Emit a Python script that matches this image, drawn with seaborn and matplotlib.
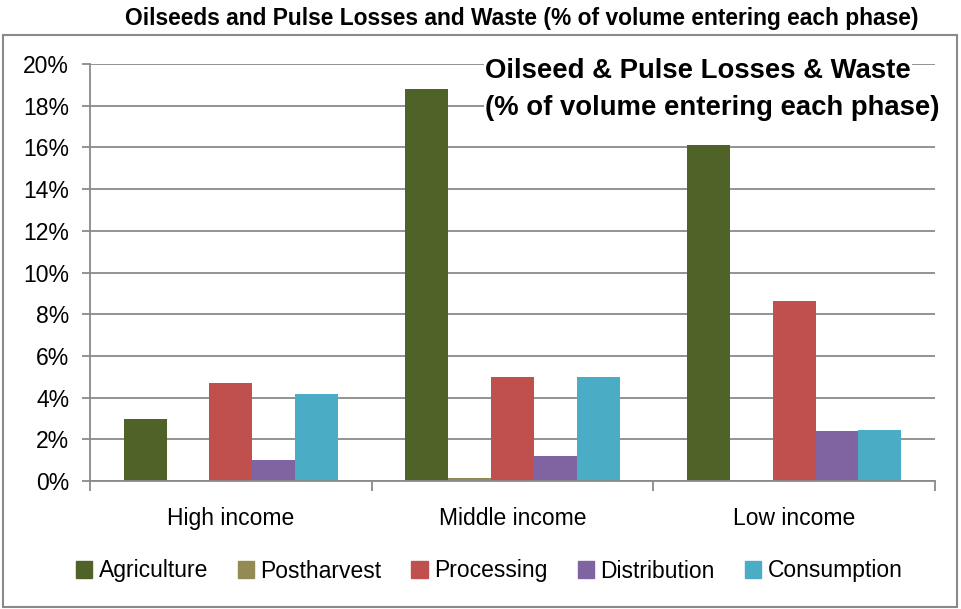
import matplotlib
matplotlib.use("Agg")
import matplotlib.pyplot as plt
import seaborn as sns
import pandas as pd
from matplotlib.patches import Rectangle
from matplotlib.ticker import FuncFormatter, FixedLocator

categories = ["High income", "Middle income", "Low income"]
phases = ["Agriculture", "Postharvest", "Processing", "Distribution", "Consumption"]
agriculture = [2.95, 18.8, 16.1]
postharvest = [0.05, 0.15, 0.0]
processing = [4.7, 5.0, 8.65]
distribution = [1.02, 1.22, 2.42]
consumption = [4.15, 5.0, 2.45]
colors = ["#4F6228", "#948A54", "#C0504D", "#8064A2", "#4BACC6"]
yticks = [0, 2, 4, 6, 8, 10, 12, 14, 16, 18, 20]

series = [agriculture, postharvest, processing, distribution, consumption]
rows = []
for ph, vals in zip(phases, series):
    for c, v in zip(categories, vals):
        rows.append({"Income": c, "Phase": ph, "Value": v})
df = pd.DataFrame(rows)

sns.set_style("white")
FONT = ["Liberation Sans", "DejaVu Sans"]
plt.rcParams["font.family"] = FONT
plt.rcParams["text.color"] = "black"
plt.rcParams["xtick.color"] = "black"
plt.rcParams["ytick.color"] = "black"

fig = plt.figure(figsize=(9.61, 6.09), dpi=100)
ax = fig.add_axes([90/961, 1-481/609, (935-90)/961, (481-64)/609])

sns.barplot(data=df, x="Income", y="Value", hue="Phase", order=categories,
            hue_order=phases, palette=colors, width=0.76, gap=0,
            saturation=1, ax=ax, legend=True, edgecolor="none")

ax.set_ylim(0, 20)
ax.set_xlim(-0.5, 2.5)
ax.yaxis.set_major_locator(FixedLocator(yticks))
ax.yaxis.set_major_formatter(FuncFormatter(lambda v, p: f"{v:.0f}%"))
ax.yaxis.grid(True, color="#8A8A8A", linewidth=1.3)
ax.set_axisbelow(True)
ax.set_xlabel("")
ax.set_ylabel("")
for s in ["top", "right"]:
    ax.spines[s].set_visible(False)
for s in ["left", "bottom"]:
    ax.spines[s].set_color("#8A8A8A")
    ax.spines[s].set_linewidth(1.3)

TICK_FS = 16.5
ax.set_xticks([-0.5, 0.5, 1.5, 2.5])
ax.set_xticklabels([])
ax.set_xticks([0, 1, 2], minor=True)
ax.set_xticklabels(categories, minor=True, fontsize=TICK_FS)
ax.tick_params(axis="x", which="major", length=7, width=1.3, color="#8A8A8A", direction="out")
ax.tick_params(axis="x", which="minor", length=0, pad=19, labelcolor="black")
ax.tick_params(axis="y", length=6, width=1.3, color="#8A8A8A", direction="out",
               labelsize=TICK_FS, pad=9, labelcolor="black")
ax.tick_params(left=True, bottom=True)

ax.legend_.remove()
handles = [Rectangle((0, 0), 1, 1, color=c) for c in colors]
leg = fig.legend(handles, phases, loc="center", bbox_to_anchor=(489/961, 1-571/609), ncol=5,
                 frameon=False, fontsize=TICK_FS, handlelength=0.7, handleheight=0.7,
                 handletextpad=0.3, columnspacing=1.3)

fig.text(522/961, 1-18/609, "Oilseeds and Pulse Losses and Waste (% of volume entering each phase)",
         ha="center", va="center", fontsize=16.4, fontweight="bold")
fig.text(485/961, 1-71/609, "Oilseed & Pulse Losses & Waste", ha="left", va="center",
         fontsize=19.8, fontweight="bold", zorder=5,
         bbox=dict(facecolor="white", edgecolor="none", pad=1))
fig.text(485/961, 1-108/609, "(% of volume entering each phase)", ha="left", va="center",
         fontsize=19.8, fontweight="bold", zorder=5,
         bbox=dict(facecolor="white", edgecolor="none", pad=1))

fig.add_artist(Rectangle((3/961, 2/609), 954/961, (572)/609, transform=fig.transFigure,
                         fill=False, edgecolor="#8A8A8A", linewidth=1.5))

fig.savefig("out.png", dpi=100)
